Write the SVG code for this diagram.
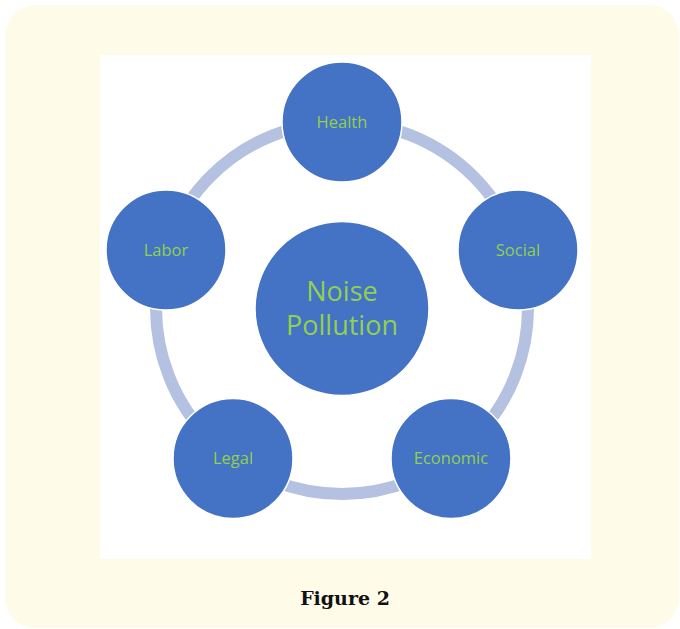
<svg xmlns="http://www.w3.org/2000/svg" width="680" height="629" viewBox="0 0 680 629">
<style>
.node{fill:#4472c4;stroke:#ffffff;stroke-width:1.5}
.lbl{font-family:"Open Sans","Liberation Sans",sans-serif;font-size:16.5px;fill:#92d050;text-anchor:middle;dominant-baseline:central}
.big{font-size:27px}
</style>
<rect x="5" y="5" width="674" height="623" rx="30" fill="#fffbe9"/>
<rect x="100" y="55" width="491" height="504" fill="#ffffff"/>
<g id="connectors">
<circle cx="342" cy="308" r="186" fill="none" stroke="#b4c1e0" stroke-width="12"/>
</g>
<g id="center"><circle class="node" cx="342" cy="308.5" r="87"/><text class="lbl big" x="342" y="290">Noise</text><text class="lbl big" x="342" y="324">Pollution</text></g>
<g id="health"><circle class="node" cx="342" cy="122" r="60"/><text class="lbl" x="342" y="121">Health</text></g>
<g id="social"><circle class="node" cx="518" cy="250" r="60"/><text class="lbl" x="518" y="249">Social</text></g>
<g id="economic"><circle class="node" cx="451" cy="458.5" r="60"/><text class="lbl" x="451" y="457.5">Economic</text></g>
<g id="legal"><circle class="node" cx="233" cy="458.5" r="60"/><text class="lbl" x="233" y="457.5">Legal</text></g>
<g id="labor"><circle class="node" cx="166" cy="250" r="60"/><text class="lbl" x="166" y="249">Labor</text></g>
<text x="345" y="605" font-family="'DejaVu Serif','Liberation Serif',serif" font-weight="bold" font-size="19" fill="#111" text-anchor="middle">Figure 2</text>
</svg>
